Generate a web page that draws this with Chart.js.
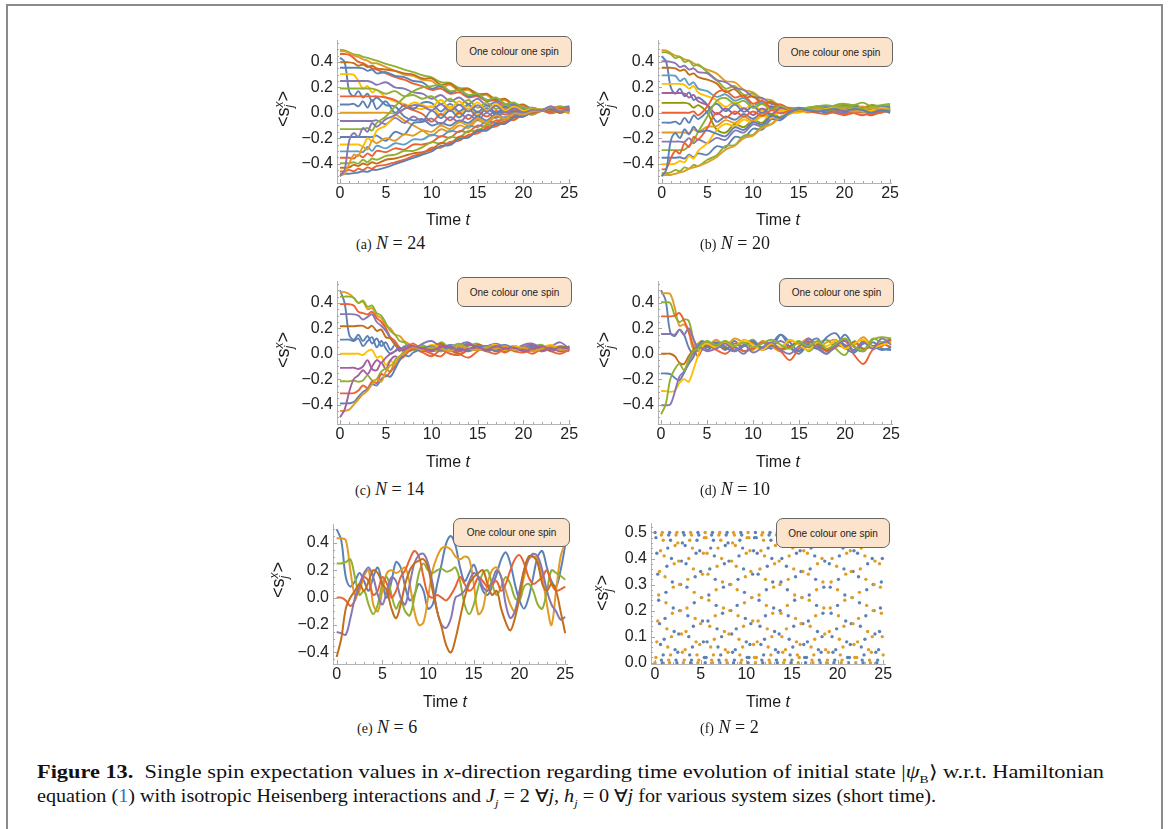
<!DOCTYPE html>
<html>
<head>
<meta charset="utf-8">
<title>Figure 13 – single spin expectation values</title>
<script src="https://cdn.jsdelivr.net/npm/chart.js@4.4.1/dist/chart.umd.min.js"></script>
<style>
  html, body { margin: 0; padding: 0; background: #fff; }
  #fig { position: relative; width: 1174px; height: 829px; overflow: hidden; font-family: "Liberation Sans", Arial, sans-serif; color: #1a1a1a; }
  .frame { position: absolute; left: 6px; top: 4px; width: 1153px; height: 900px; border: 2px solid #8a8a8a; border-bottom: none; }
  .pc { position: absolute; }
  .ytitle { position: absolute; transform: translate(-50%, -50%) rotate(-90deg); font-size: 18px; white-space: nowrap; }
  .xtitle { position: absolute; transform: translate(-50%, -50%); font-size: 16px; white-space: nowrap; }
  .key { position: absolute; box-sizing: border-box; border: 1.5px solid #666; border-radius: 7px; background: #fce3cc; font-size: 10px; display: flex; align-items: center; justify-content: center; white-space: nowrap; color: #222; }
  .sub { position: absolute; transform: translateY(-50%); font-family: "Liberation Serif", serif; font-size: 18px; white-space: nowrap; }
  .sub .tag { font-size: 14px; }
  .cap { position: absolute; left: 37px; font-family: "Liberation Serif", serif; font-size: 18px; white-space: nowrap; transform-origin: 0 50%; transform: translateY(-50%); color: #111; }
  .cap .ref { color: #1f78c8; }
  .stk { display: inline-block; vertical-align: middle; line-height: 0.85; font-size: 12px; font-style: italic; text-align: left; }
</style>
</head>
<body>
<div id="fig">
  <div class="frame"></div>
</div>
<script>
// ---------- axis tick labels ----------
const timeTicks = [0, 5, 10, 15, 20, 25];
const sxTicks = [-0.4, -0.2, 0, 0.2, 0.4];
const sxTicksN2 = [0, 0.1, 0.2, 0.3, 0.4, 0.5];

// ---------- sampling times ----------
const tGridAB = [0,0.5,1,1.5,2,2.5,3,3.5,4,5,6,7,8,9,10,11,12,13,14,15,16,17,18,19,20,21,22,23,24,25];
const tGridC = [0,0.5,1,1.5,2,2.5,3,3.5,4,4.5,5,5.5,6,6.5,7,7.5,8,9,10,11,12,13,14,15,16,17,18,19,20,21,22,23,24,25];
const tGridD = [0,0.5,1,1.5,2,2.5,3,3.5,4,4.5,5,6,7,8,9,10,11,12,13,14,15,16,17,18,19,20,21,22,23,24,25];
const tGridE = Array.from({length: 51}, (_, i) => i / 2);
const tGridF = Array.from({length: 251}, (_, i) => i / 10);

// ---------- <s_j^x>(t), N = 24 ----------
const sxN24 = [
  [0.496,0.49,0.475,0.46,0.455,0.44,0.432,0.42,0.41,0.385,0.365,0.34,0.32,0.295,0.279,0.24,0.235,0.195,0.19,0.15,0.146,0.105,0.102,0.06,0.058,0.02,0.025,0.04,0.02,0.035],
  [0.483,0.483,0.47,0.45,0.44,0.42,0.41,0.39,0.39,0.36,0.33,0.30,0.29,0.26,0.25,0.20,0.22,0.17,0.18,0.13,0.14,0.09,0.10,0.06,0.06,0.02,0.02,0.01,0.04,0.02],
  [0.462,0.462,0.455,0.43,0.40,0.39,0.37,0.35,0.34,0.31,0.28,0.26,0.23,0.21,0.18,0.19,0.15,0.16,0.12,0.13,0.09,0.10,0.06,0.07,0.04,0.03,0.02,0.035,0.01,0.03],
  [0.433,0.40,0.17,0.13,0.17,0.12,0.15,0.09,0.12,0.06,0.05,-0.03,-0.06,-0.05,-0.10,-0.08,-0.10,-0.06,-0.08,-0.03,-0.06,-0.01,-0.04,0.01,-0.01,0.02,0.02,0.00,0.03,0.05],
  [0.397,0.397,0.397,0.39,0.37,0.38,0.36,0.37,0.35,0.34,0.33,0.31,0.30,0.27,0.27,0.22,0.23,0.18,0.19,0.14,0.15,0.10,0.11,0.06,0.065,0.025,0.025,0.03,0.00,0.02],
  [0.354,0.354,0.354,0.354,0.354,0.35,0.33,0.34,0.31,0.32,0.29,0.28,0.25,0.24,0.19,0.21,0.16,0.18,0.13,0.14,0.10,0.11,0.07,0.07,0.04,0.04,0.02,0.05,0.02,0.01],
  [0.304,0.304,0.304,0.30,0.25,0.19,0.21,0.16,0.18,0.12,0.09,0.07,0.04,0.03,0.05,-0.02,0.05,-0.01,0.05,-0.01,0.04,0.00,0.03,0.01,0.025,0.015,0.02,0.04,0.01,0.03],
  [0.25,0.25,0.25,0.25,0.25,0.25,0.25,0.24,0.22,0.24,0.20,0.19,0.16,0.15,0.11,0.14,0.09,0.12,0.07,0.11,0.055,0.085,0.04,0.06,0.026,0.036,0.023,0.00,0.03,0.04],
  [0.191,0.191,0.191,0.191,0.191,0.191,0.191,0.19,0.18,0.15,0.17,0.13,0.14,0.11,0.13,0.07,0.11,0.06,0.10,0.04,0.08,0.03,0.06,0.025,0.04,0.02,0.02,0.04,0.00,0.02],
  [0.129,0.129,0.129,0.129,0.129,0.129,0.129,0.129,0.129,0.12,0.10,0.05,0.02,-0.01,-0.07,-0.01,-0.06,0.00,-0.05,0.01,-0.03,0.015,-0.015,0.016,0.00,0.018,0.02,0.03,0.05,0.01],
  [0.065,0.065,0.065,0.07,0.05,0.09,0.04,0.10,0.03,0.09,0.0,0.06,0.03,0.08,0.075,0.01,0.07,0.01,0.065,0.005,0.06,0.00,0.047,0.006,0.033,0.01,0.021,0.01,0.04,0.05],
  [0,0,0,0,0,0,0,0,0,0,-0.01,-0.06,-0.10,-0.14,-0.18,-0.13,-0.15,-0.10,-0.12,-0.06,-0.09,-0.03,-0.05,-0.006,-0.018,0.01,0.018,0.035,0.015,0.0],
  [-0.065,-0.065,-0.065,-0.065,-0.065,-0.065,-0.065,-0.065,-0.06,-0.09,-0.04,-0.08,-0.03,-0.07,-0.046,-0.09,-0.034,-0.075,-0.016,-0.056,-0.001,-0.041,0.01,-0.016,0.015,0.006,0.019,0.0,0.02,0.045],
  [-0.129,-0.129,-0.129,-0.129,-0.129,-0.129,-0.12,-0.14,-0.08,-0.03,0.05,0.12,0.17,0.20,0.21,0.22,0.17,0.18,0.14,0.15,0.10,0.12,0.07,0.08,0.04,0.037,0.024,0.02,0.05,0.03],
  [-0.191,-0.191,-0.191,-0.191,-0.191,-0.191,-0.191,-0.191,-0.18,-0.22,-0.15,-0.17,-0.08,-0.07,0.017,-0.042,0.02,-0.036,0.027,-0.028,0.033,-0.013,0.024,0.003,0.024,0.011,0.02,-0.005,0.02,0.04],
  [-0.25,-0.25,-0.25,-0.25,-0.25,-0.26,-0.20,-0.22,-0.14,-0.10,-0.02,0.03,0.08,0.06,0.045,0.10,0.034,0.09,0.025,0.082,0.016,0.072,0.017,0.048,0.017,0.027,0.022,0.0,0.03,0.015],
  [-0.304,-0.304,-0.304,-0.304,-0.304,-0.31,-0.27,-0.30,-0.26,-0.28,-0.24,-0.25,-0.21,-0.21,-0.173,-0.188,-0.142,-0.152,-0.103,-0.113,-0.068,-0.078,-0.033,-0.038,-0.002,-0.002,0.017,0.04,0.01,0.02],
  [-0.354,-0.354,-0.354,-0.36,-0.33,-0.35,-0.32,-0.34,-0.30,-0.31,-0.28,-0.29,-0.25,-0.25,-0.232,-0.184,-0.197,-0.144,-0.152,-0.10,-0.112,-0.06,-0.072,-0.025,-0.027,0.006,0.017,0.0,0.035,0.01],
  [-0.397,-0.397,-0.397,-0.39,-0.40,-0.37,-0.39,-0.36,-0.37,-0.34,-0.33,-0.30,-0.30,-0.27,-0.232,-0.241,-0.191,-0.196,-0.142,-0.147,-0.096,-0.102,-0.051,-0.057,-0.006,-0.016,0.016,0.03,0.02,-0.005],
  [-0.433,-0.433,-0.43,-0.41,-0.42,-0.40,-0.41,-0.39,-0.40,-0.37,-0.36,-0.34,-0.32,-0.31,-0.29,-0.238,-0.245,-0.188,-0.19,-0.133,-0.136,-0.083,-0.085,-0.033,-0.03,0.007,0.016,0.025,0.0,0.03],
  [-0.462,-0.462,-0.45,-0.46,-0.44,-0.45,-0.43,-0.44,-0.42,-0.41,-0.39,-0.37,-0.34,-0.32,-0.275,-0.275,-0.23,-0.22,-0.175,-0.162,-0.12,-0.108,-0.068,-0.054,-0.015,-0.005,0.015,0.01,0.03,0.04],
  [-0.483,-0.48,-0.48,-0.475,-0.47,-0.46,-0.465,-0.45,-0.45,-0.43,-0.405,-0.38,-0.355,-0.33,-0.305,-0.26,-0.255,-0.205,-0.195,-0.145,-0.14,-0.09,-0.085,-0.035,-0.03,0.01,0.015,0.03,0.01,0.025],
  [-0.496,-0.48,-0.40,-0.33,-0.34,-0.27,-0.29,-0.22,-0.24,-0.20,-0.22,-0.17,-0.18,-0.14,-0.15,-0.10,-0.128,-0.074,-0.099,-0.045,-0.074,-0.02,-0.044,-0.005,-0.014,0.012,0.018,0.045,0.02,0.0],
  [-0.5,-0.45,-0.22,-0.16,-0.19,-0.12,-0.15,-0.08,-0.11,-0.05,-0.02,0.03,0.06,0.05,0.02,0.067,0.014,0.063,0.011,0.06,0.007,0.055,0.002,0.036,0.003,0.025,0.021,0.05,0.01,0.03]
];

// ---------- <s_j^x>(t), N = 20 ----------
const sxN20 = [
  [0.494,0.49,0.47,0.45,0.44,0.42,0.41,0.39,0.37,0.34,0.31,0.25,0.24,0.18,0.16,0.11,0.10,0.05,0.04,0.03,0.025,0.03,0.04,0.05,0.04,0.03,0.02,0.03,0.05,0.06],
  [0.476,0.476,0.46,0.43,0.44,0.40,0.41,0.37,0.38,0.32,0.26,0.19,0.21,0.14,0.15,0.08,0.09,0.045,0.035,0.03,0.04,0.05,0.03,0.06,0.07,0.04,0.03,0.06,0.04,0.05],
  [0.446,0.40,0.20,0.15,0.19,0.13,0.16,0.10,0.12,0.06,-0.07,-0.03,-0.055,-0.01,-0.047,0.0,-0.015,0.014,0.013,0.025,0.02,0.01,0.03,0.02,0.0,0.02,0.04,0.02,0.01,0.03],
  [0.405,0.405,0.40,0.39,0.36,0.37,0.34,0.35,0.32,0.31,0.257,0.241,0.195,0.179,0.123,0.117,0.07,0.064,0.03,0.035,0.03,0.02,0.04,0.03,0.02,0.05,0.04,0.02,0.03,0.04],
  [0.354,0.354,0.354,0.35,0.33,0.34,0.30,0.31,0.28,0.26,0.231,0.163,0.185,0.117,0.129,0.07,0.082,0.042,0.033,0.03,0.02,0.01,0.03,0.0,-0.01,0.02,0.0,-0.02,0.01,0.03],
  [0.294,0.294,0.294,0.29,0.25,0.27,0.22,0.24,0.19,0.17,0.125,0.145,0.095,0.115,0.055,0.083,0.033,0.05,0.028,0.03,0.04,0.03,0.05,0.04,0.06,0.05,0.04,0.05,0.03,0.05],
  [0.227,0.227,0.227,0.227,0.227,0.22,0.19,0.21,0.16,0.13,0.10,0.047,0.085,0.033,0.061,0.016,0.054,0.018,0.023,0.02,0.0,0.02,0.01,0.0,0.02,0.01,-0.01,0.01,0.02,0.0],
  [0.155,0.155,0.155,0.155,0.155,0.15,0.12,0.14,0.09,0.06,-0.012,0.034,-0.01,0.036,-0.018,0.034,-0.01,0.036,0.018,0.03,0.035,0.02,0.03,0.04,0.03,0.02,0.04,0.05,0.03,0.02],
  [0.078,0.078,0.078,0.078,0.078,0.078,0.07,0.04,0.06,0.0,-0.13,-0.156,-0.09,-0.114,-0.058,-0.079,-0.013,-0.034,0.005,0.02,0.03,0.04,0.03,0.05,0.06,0.05,0.04,0.06,0.05,0.04],
  [0,0,0,0,0,0,0,0.01,-0.02,0.05,0.158,0.174,0.12,0.136,0.072,0.096,0.042,0.066,0.03,0.02,0.03,0.02,0.01,0.0,-0.02,0.0,0.01,-0.01,0.0,0.02],
  [-0.078,-0.078,-0.078,-0.07,-0.09,-0.04,-0.08,-0.02,-0.05,0.01,0.071,0.013,0.065,0.007,0.049,-0.003,0.049,-0.003,0.02,0.04,0.03,0.05,0.04,0.03,0.05,0.06,0.04,0.03,0.05,0.04],
  [-0.155,-0.155,-0.155,-0.155,-0.155,-0.155,-0.16,-0.13,-0.15,-0.11,-0.106,-0.058,-0.08,-0.032,-0.064,-0.012,-0.034,0.018,0.01,0.03,0.02,0.04,0.03,0.02,0.04,0.03,0.05,0.02,0.03,0.01],
  [-0.227,-0.227,-0.227,-0.227,-0.227,-0.23,-0.20,-0.24,-0.21,-0.24,-0.198,-0.214,-0.14,-0.156,-0.092,-0.106,-0.032,-0.046,0.0,0.02,0.01,0.03,0.02,0.01,0.0,0.02,0.01,0.0,0.02,0.03],
  [-0.294,-0.294,-0.294,-0.294,-0.294,-0.29,-0.26,-0.22,-0.15,-0.03,0.092,0.116,0.07,0.094,0.038,0.069,0.023,0.054,0.025,0.03,0.04,0.05,0.06,0.05,0.07,0.06,0.08,0.05,0.06,0.07],
  [-0.354,-0.354,-0.354,-0.354,-0.35,-0.36,-0.33,-0.35,-0.32,-0.33,-0.264,-0.272,-0.19,-0.198,-0.126,-0.133,-0.051,-0.058,-0.005,0.02,0.03,0.02,0.0,0.01,0.03,0.02,0.01,0.03,0.02,0.0],
  [-0.405,-0.405,-0.405,-0.40,-0.38,-0.39,-0.34,-0.36,-0.30,-0.24,-0.139,-0.087,-0.105,-0.053,-0.081,-0.026,-0.044,0.012,0.008,0.0,0.02,0.01,0.03,0.04,0.02,0.03,0.01,0.02,0.04,0.03],
  [-0.446,-0.44,-0.36,-0.30,-0.32,-0.24,-0.27,-0.19,-0.21,-0.12,0.0,-0.04,0.01,-0.03,0.01,-0.025,0.02,-0.005,0.015,0.02,0.01,0.0,-0.01,0.01,0.02,0.0,-0.02,0.0,0.01,0.02],
  [-0.476,-0.476,-0.47,-0.45,-0.46,-0.43,-0.44,-0.41,-0.42,-0.37,-0.337,-0.261,-0.255,-0.179,-0.173,-0.107,-0.09,-0.034,-0.008,0.02,0.03,0.04,0.02,0.03,0.05,0.04,0.03,0.04,0.02,0.03],
  [-0.494,-0.49,-0.49,-0.48,-0.47,-0.46,-0.44,-0.43,-0.42,-0.39,-0.35,-0.29,-0.26,-0.20,-0.18,-0.12,-0.09,-0.03,-0.01,0.02,0.01,0.03,0.02,0.04,0.03,0.01,0.02,0.04,0.03,0.02],
  [-0.5,-0.45,-0.22,-0.16,-0.20,-0.13,-0.17,-0.11,-0.15,-0.14,-0.165,-0.185,-0.115,-0.135,-0.075,-0.093,-0.023,-0.04,0.003,0.03,0.02,0.01,0.02,0.03,0.01,0.03,0.02,0.0,0.02,0.01]
];

// ---------- <s_j^x>(t), N = 14 ----------
const sxN14 = [
  [0.5,0.40,0.15,0.11,0.15,0.10,0.14,0.08,0.12,0.06,0.09,0.03,0.07,0.02,0.06,0.03,0.05,0.06,0.03,0.07,0.02,0.05,0.08,0.04,0.03,0.05,0.02,0.04,0.06,0.03,0.05,0.02,0.04,0.03],
  [0.487,0.485,0.47,0.44,0.40,0.41,0.35,0.36,0.30,0.28,0.22,0.20,0.15,0.14,0.10,0.08,0.06,0.04,0.06,0.02,0.05,0.03,0.07,0.05,0.02,0.04,0.06,0.03,0.05,0.04,0.02,0.06,0.05,0.03],
  [0.45,0.45,0.45,0.44,0.40,0.42,0.37,0.38,0.32,0.30,0.24,0.18,0.15,0.10,0.09,0.05,0.04,0.07,0.02,0.09,0.04,0.03,0.06,0.08,0.04,0.05,0.03,0.06,0.04,0.05,0.07,0.03,0.04,0.05],
  [0.391,0.391,0.39,0.38,0.33,0.32,0.31,0.33,0.28,0.25,0.20,0.13,0.10,0.05,0.04,0.06,0.08,0.03,0.00,-0.02,0.04,0.0,-0.03,0.02,0.06,0.04,0.01,0.05,0.03,0.0,0.04,0.06,0.02,0.03],
  [0.312,0.312,0.312,0.31,0.30,0.27,0.29,0.31,0.25,0.22,0.18,0.12,0.08,0.03,0.05,0.07,0.03,0.08,0.10,0.05,0.02,0.07,0.09,0.04,0.06,0.08,0.05,0.03,0.07,0.08,0.05,0.06,0.09,0.04],
  [0.217,0.217,0.217,0.217,0.22,0.22,0.20,0.22,0.18,0.19,0.13,0.12,0.07,0.04,0.02,0.05,0.06,0.02,0.05,0.08,0.03,0.0,0.03,0.07,0.05,0.02,0.04,0.06,0.03,0.05,0.02,0.04,0.06,0.05],
  [0.111,0.111,0.111,0.10,0.12,0.06,0.10,0.13,0.05,0.10,0.04,0.0,0.02,0.05,0.01,0.03,0.04,0.05,0.02,0.04,0.07,0.05,0.03,0.04,0.06,0.02,0.05,0.04,0.03,0.06,0.04,0.03,0.05,0.02],
  [0,0,0,0,0,-0.01,0.02,0.03,-0.03,-0.02,-0.09,-0.05,-0.10,-0.04,-0.02,0.03,0.05,0.04,0.07,0.05,0.03,0.06,0.02,0.04,0.05,0.07,0.03,0.06,0.04,0.02,0.05,0.07,0.04,0.05],
  [-0.111,-0.111,-0.111,-0.11,-0.12,-0.10,-0.05,-0.12,-0.13,-0.07,-0.12,-0.05,-0.02,-0.04,0.0,0.02,0.03,0.05,0.02,0.06,0.04,0.03,0.07,0.05,0.02,0.06,0.04,0.03,0.05,0.07,0.03,0.04,0.02,0.05],
  [-0.217,-0.217,-0.217,-0.21,-0.22,-0.21,-0.17,-0.21,-0.20,-0.14,-0.12,-0.14,-0.05,-0.02,0.02,0.05,0.03,0.06,0.04,0.02,0.05,0.08,0.04,0.03,0.05,0.06,0.04,0.03,0.05,0.04,0.06,0.03,0.05,0.04],
  [-0.312,-0.312,-0.312,-0.31,-0.29,-0.25,-0.27,-0.22,-0.23,-0.16,-0.18,-0.14,-0.10,-0.05,-0.02,0.02,0.04,0.01,-0.02,0.03,0.0,-0.01,0.03,0.05,0.02,0.0,0.04,0.02,0.01,0.03,0.05,0.02,0.0,0.03],
  [-0.391,-0.391,-0.39,-0.38,-0.34,-0.30,-0.28,-0.24,-0.25,-0.20,-0.17,-0.18,-0.12,-0.05,-0.01,-0.02,0.01,0.04,0.06,0.03,0.05,0.04,0.02,0.06,0.03,0.05,0.07,0.04,0.03,0.06,0.04,0.05,0.03,0.06],
  [-0.45,-0.45,-0.44,-0.40,-0.36,-0.32,-0.29,-0.24,-0.20,-0.22,-0.14,-0.09,-0.08,-0.02,0.0,0.04,0.05,0.03,0.05,0.04,0.02,0.06,0.04,0.03,0.05,0.04,0.06,0.03,0.05,0.02,0.04,0.06,0.03,0.04],
  [-0.5,-0.44,-0.30,-0.20,-0.17,-0.13,-0.16,-0.10,-0.05,-0.07,-0.03,0.0,0.02,0.04,0.03,0.05,0.06,0.04,0.03,0.05,0.06,0.02,0.04,0.05,0.03,0.06,0.04,0.05,0.02,0.04,0.06,0.03,0.05,0.04]
];

// ---------- <s_j^x>(t), N = 10 ----------
const sxN10 = [
  [0.5,0.42,0.17,0.14,0.19,0.15,0.05,0.0,0.06,0.09,0.03,0.08,0.03,0.10,0.02,0.05,0.09,0.04,0.15,0.05,0.0,0.08,0.12,0.02,0.06,0.15,0.05,0.02,0.09,0.04,0.03],
  [0.476,0.476,0.47,0.36,0.22,0.23,0.17,0.04,0.08,0.10,0.06,0.11,0.06,0.12,0.08,0.03,0.10,0.06,0.02,0.10,0.08,0.12,0.05,0.09,0.11,0.04,0.07,0.13,0.06,0.08,0.10],
  [0.405,0.405,0.40,0.30,0.25,0.27,0.26,0.12,0.02,0.06,0.09,0.05,0.10,0.03,0.07,0.11,0.04,0.08,0.03,0.05,0.10,0.02,0.07,0.11,0.04,-0.01,0.10,0.03,0.12,0.09,0.12],
  [0.294,0.294,0.294,0.30,0.32,0.26,0.18,0.06,-0.02,0.04,0.07,0.03,0.0,0.05,0.02,0.04,0.09,0.07,0.02,-0.05,0.04,0.09,0.07,0.02,0.05,0.10,-0.01,-0.08,0.03,0.06,0.11],
  [0.155,0.155,0.155,0.15,0.19,0.15,0.20,0.12,0.05,0.03,0.08,0.06,0.09,0.05,0.0,0.08,0.03,0.06,0.10,0.05,0.02,0.12,0.06,0.0,0.09,0.07,0.03,0.10,0.05,0.08,0.12],
  [0,0,0,-0.02,-0.07,-0.08,-0.02,0.03,0.05,0.08,0.05,0.07,0.04,0.08,0.06,0.09,0.05,0.07,0.04,0.06,0.09,0.05,0.08,0.03,0.07,0.05,0.09,0.04,0.06,0.08,0.05],
  [-0.155,-0.155,-0.16,-0.19,-0.21,-0.15,-0.08,-0.03,0.05,0.10,0.06,0.09,0.05,0.02,0.06,0.10,0.04,0.08,0.15,0.09,0.02,0.07,0.04,0.13,0.16,0.05,0.01,0.08,0.06,0.03,0.05],
  [-0.294,-0.294,-0.30,-0.29,-0.23,-0.20,-0.22,-0.13,-0.02,0.06,0.08,0.05,0.09,0.06,0.11,0.07,0.03,0.08,0.05,0.11,0.07,0.03,0.09,0.06,0.10,0.04,0.08,0.11,0.05,0.07,0.09],
  [-0.405,-0.405,-0.40,-0.30,-0.18,-0.14,-0.06,0.0,0.06,0.04,0.02,0.04,0.08,0.02,0.07,0.01,0.05,0.09,0.03,0.0,0.06,0.10,0.04,0.0,0.06,0.11,0.02,0.09,0.04,0.12,0.07],
  [-0.476,-0.40,-0.20,-0.12,-0.08,-0.13,-0.05,0.02,0.04,0.08,0.10,0.07,0.10,0.06,0.09,0.05,0.08,0.11,0.07,0.04,0.09,0.06,0.10,0.04,0.08,0.12,0.06,0.02,0.11,0.13,0.12]
];

// ---------- <s_j^x>(t), N = 6 ----------
const sxN6 = [
  [0.5,0.42,0.15,0.08,0.12,0.18,0.12,0.05,0.15,0.22,0.10,0.0,0.12,0.26,0.22,0.08,-0.02,0.02,0.10,0.05,-0.08,-0.05,0.10,0.25,0.40,0.45,0.38,0.22,0.12,0.18,0.24,0.15,0.05,0.02,0.08,0.17,0.28,0.33,0.25,0.10,-0.02,-0.08,0.0,0.15,0.30,0.34,0.22,0.12,0.08,0.20,0.38],
  [0.433,0.433,0.42,0.20,0.02,0.05,0.16,0.20,-0.05,-0.10,0.05,0.18,0.20,0.18,0.20,0.22,0.10,-0.10,-0.20,-0.18,0.0,0.20,0.30,0.36,0.37,0.35,0.30,0.28,0.30,0.28,0.10,-0.12,-0.08,0.10,0.20,0.22,0.15,0.05,-0.05,-0.10,0.0,0.15,0.28,0.30,0.28,0.15,-0.05,-0.20,0.05,0.30,0.40],
  [0.25,0.25,0.26,0.28,0.15,0.02,0.05,-0.05,-0.12,-0.05,0.10,0.15,0.02,-0.08,-0.02,-0.10,-0.13,0.0,0.18,0.25,0.20,0.18,0.20,0.21,0.19,0.20,0.22,0.12,-0.05,-0.12,-0.05,0.08,0.18,0.20,0.10,0.02,0.08,0.15,0.10,0.0,-0.02,0.08,0.10,0.05,-0.05,-0.08,0.05,0.20,0.18,0.16,0.13],
  [0,0,-0.02,-0.06,-0.02,0.08,0.15,0.12,0.02,0.05,0.15,0.10,0.0,0.05,0.15,0.20,0.28,0.34,0.30,0.15,0.02,0.0,0.02,0.0,-0.02,0.02,0.08,0.15,0.10,0.05,0.08,0.15,0.12,0.08,0.10,0.12,0.05,0.10,0.20,0.28,0.31,0.25,0.15,0.10,0.12,0.15,0.20,0.10,0.05,0.06,0.08],
  [-0.25,-0.26,-0.27,-0.15,0.0,0.10,0.18,0.22,0.15,0.02,-0.05,0.05,0.15,0.12,0.0,-0.05,0.10,0.25,0.31,0.32,0.25,0.10,-0.10,-0.20,-0.22,-0.15,0.0,0.02,0.05,0.12,0.18,0.15,0.08,0.05,0.12,0.20,0.15,-0.05,-0.15,-0.10,0.05,0.20,0.28,0.32,0.30,0.20,0.05,-0.05,-0.10,-0.16,-0.14],
  [-0.433,-0.30,-0.08,0.0,0.05,0.10,0.05,0.12,0.20,0.18,0.10,0.05,-0.08,-0.15,-0.05,0.10,0.20,0.25,0.27,0.28,0.22,0.05,-0.10,-0.22,-0.35,-0.40,-0.30,-0.15,0.0,0.10,0.15,0.18,0.20,0.10,0.02,0.05,-0.08,-0.18,-0.24,-0.15,0.0,0.20,0.30,0.30,0.25,0.10,0.05,0.10,0.05,-0.10,-0.26]
];

// ---------- <s_j^x>(t), N = 2 (sampled every 0.1) ----------
const sxN2spin1 = [
  0.50,0.48,0.42,0.34,0.24,0.15,0.07,0.01,0.00,0.03, 0.09,0.17,0.27,0.37,0.44,0.49,0.50,0.47,0.40,0.31,
  0.21,0.12,0.05,0.01,0.00,0.04,0.11,0.20,0.30,0.39, 0.46,0.50,0.49,0.45,0.38,0.29,0.18,0.10,0.03,0.00,
  0.01,0.06,0.14,0.23,0.33,0.42,0.47,0.50,0.49,0.43, 0.35,0.25,0.16,0.08,0.02,0.00,0.02,0.08,0.16,0.26,
  0.36,0.44,0.49,0.50,0.47,0.41,0.32,0.22,0.13,0.06, 0.01,0.00,0.03,0.10,0.19,0.29,0.38,0.45,0.49,0.50,
  0.46,0.39,0.30,0.20,0.11,0.04,0.00,0.01,0.05,0.13, 0.22,0.32,0.41,0.47,0.50,0.49,0.44,0.36,0.27,0.17,
  0.08,0.02,0.00,0.02,0.07,0.15,0.25,0.34,0.43,0.48, 0.50,0.48,0.42,0.34,0.24,0.14,0.07,0.01,0.00,0.03,
  0.09,0.18,0.28,0.37,0.44,0.49,0.50,0.47,0.40,0.31, 0.21,0.12,0.05,0.01,0.00,0.04,0.11,0.20,0.31,0.40,
  0.46,0.50,0.49,0.45,0.37,0.28,0.18,0.09,0.03,0.00, 0.01,0.06,0.14,0.24,0.33,0.42,0.47,0.50,0.48,0.43,
  0.35,0.25,0.15,0.07,0.02,0.00,0.02,0.08,0.16,0.26, 0.36,0.44,0.49,0.50,0.47,0.41,0.32,0.22,0.12,0.05,
  0.01,0.00,0.04,0.10,0.19,0.29,0.39,0.45,0.50,0.49, 0.46,0.38,0.29,0.19,0.10,0.04,0.00,0.01,0.05,0.13,
  0.22,0.32,0.41,0.47,0.50,0.49,0.44,0.36,0.26,0.16, 0.08,0.02,0.00,0.02,0.07,0.15,0.25,0.35,0.43,0.48,
  0.50,0.48,0.42,0.33,0.23,0.14,0.06,0.01,0.00,0.03, 0.09,0.18,0.28,0.38,0.45,0.49,0.50,0.46,0.40,0.30,
  0.20,0.11,0.04,0.00,0.01,0.05,0.12,0.21,0.31,0.40, 0.47
];
const sxN2spin2 = [
  0.00,0.02,0.08,0.16,0.26,0.35,0.43,0.49,0.50,0.47, 0.41,0.33,0.23,0.13,0.06,0.01,0.00,0.03,0.10,0.19,
  0.29,0.38,0.45,0.49,0.50,0.46,0.39,0.30,0.20,0.11, 0.04,0.00,0.01,0.05,0.12,0.21,0.32,0.40,0.47,0.50,
  0.49,0.44,0.36,0.27,0.17,0.08,0.03,0.00,0.01,0.07, 0.15,0.25,0.34,0.42,0.48,0.50,0.48,0.42,0.34,0.24,
  0.14,0.06,0.01,0.00,0.03,0.09,0.18,0.28,0.37,0.44, 0.49,0.50,0.47,0.40,0.31,0.21,0.12,0.05,0.01,0.00,
  0.04,0.11,0.20,0.30,0.39,0.46,0.50,0.49,0.45,0.37, 0.28,0.18,0.09,0.03,0.00,0.01,0.06,0.14,0.23,0.33,
  0.42,0.48,0.50,0.48,0.43,0.35,0.25,0.16,0.07,0.02, 0.00,0.02,0.08,0.16,0.26,0.36,0.43,0.49,0.50,0.47,
  0.41,0.32,0.22,0.13,0.06,0.01,0.00,0.03,0.10,0.19, 0.29,0.38,0.45,0.49,0.50,0.46,0.39,0.30,0.19,0.10,
  0.04,0.00,0.01,0.05,0.13,0.22,0.32,0.41,0.47,0.50, 0.49,0.44,0.36,0.26,0.17,0.08,0.03,0.00,0.02,0.07,
  0.15,0.25,0.35,0.43,0.48,0.50,0.48,0.42,0.34,0.24, 0.14,0.06,0.01,0.00,0.03,0.09,0.18,0.28,0.38,0.45,
  0.49,0.50,0.46,0.40,0.31,0.21,0.11,0.05,0.00,0.01, 0.04,0.12,0.21,0.31,0.40,0.46,0.50,0.49,0.45,0.37,
  0.28,0.18,0.09,0.03,0.00,0.01,0.06,0.14,0.24,0.34, 0.42,0.48,0.50,0.48,0.43,0.35,0.25,0.15,0.07,0.02,
  0.00,0.02,0.08,0.17,0.27,0.36,0.44,0.49,0.50,0.47, 0.41,0.32,0.22,0.12,0.05,0.01,0.00,0.04,0.10,0.20,
  0.30,0.39,0.46,0.50,0.49,0.45,0.38,0.29,0.19,0.10, 0.03
];

// ---------- line colours (one colour per spin) ----------
const C = {
  blue: '#5E81B5', orange: '#E09C24', green: '#8FB032', red: '#EB6235', purple: '#8778B3',
  brown: '#C56E1A', lblue: '#5D9EC7', yellow: '#FFBF00', magenta: '#A5609D', olive: '#929600'
};
const colN24 = ['green','orange','red','blue','brown','blue','yellow','purple','green','red','blue','orange',
                'purple','green','blue','yellow','lblue','red','green','brown','red','blue','orange','purple'];
const colN20 = ['orange','green','blue','purple','brown','lblue','yellow','magenta','olive','red',
                'blue','orange','purple','green','blue','yellow','red','green','orange','blue'];
const colN14 = ['blue','orange','green','red','purple','brown','blue','yellow','magenta','green','red','blue','orange','magenta'];
const colN10 = ['blue','orange','green','red','purple','brown','blue','yellow','purple','green'];
const colN6 = ['blue','orange','green','red','purple','brown'];
const colN2 = ['blue','orange'];

// ---------- drawing ----------
const PAD_L = 56, PAD_T = 8, PAD_R = 10, PAD_B = 30;
const fig = document.getElementById('fig');

const innerTicks = {
  id: 'innerTicks',
  afterDraw(chart, args, o) {
    const {ctx, chartArea: a, scales: {x, y}} = chart;
    ctx.save();
    ctx.strokeStyle = '#a6a6a6';
    ctx.lineWidth = 1;
    ctx.beginPath();
    for (let t = 0; t <= 25; t++) {
      const px = Math.round(x.getPixelForValue(t)) + 0.5;
      const len = t % 5 === 0 ? 4 : 2;
      ctx.moveTo(px, a.bottom);
      ctx.lineTo(px, a.bottom - len);
    }
    const n0 = Math.ceil(y.min / o.yMinor - 1e-6), n1 = Math.floor(y.max / o.yMinor + 1e-6);
    for (let n = n0; n <= n1; n++) {
      const v = n * o.yMinor;
      const py = Math.round(y.getPixelForValue(v)) + 0.5;
      const len = n % o.yMajorEvery === 0 ? 4 : 2;
      ctx.moveTo(a.left, py);
      ctx.lineTo(a.left + len, py);
    }
    ctx.stroke();
    ctx.restore();
  }
};

function fmtY(v) {
  if (Math.abs(v) < 1e-9) return '0.0';
  return (v < 0 ? '\u2212' : '') + Math.abs(v).toFixed(1);
}

function panel(p) {
  const wrap = document.createElement('div');
  wrap.className = 'pc';
  const w = p.R - p.L + PAD_L + PAD_R, h = p.B - p.T + PAD_T + PAD_B;
  wrap.style.left = (p.L - PAD_L) + 'px';
  wrap.style.top = (p.T - PAD_T) + 'px';
  wrap.style.width = w + 'px';
  wrap.style.height = h + 'px';
  const cv = document.createElement('canvas');
  cv.width = w; cv.height = h;
  cv.style.width = w + 'px'; cv.style.height = h + 'px';
  wrap.appendChild(cv);
  fig.appendChild(wrap);

  const datasets = p.series.map((vals, i) => ({
    data: vals.map((v, j) => ({x: p.times[j], y: v})).filter(d => d.x !== undefined),
    borderColor: C[p.colors[i]],
    backgroundColor: C[p.colors[i]],
    borderWidth: p.dots ? 0 : p.lw,
    pointRadius: p.dots ? 1.7 : 0,
    pointBorderWidth: 0,
    showLine: !p.dots,
    tension: 0.35,
    order: -i
  }));

  const tickFont = {family: '"Liberation Sans", Arial, sans-serif', size: 16};
  new Chart(cv, {
    type: 'line',
    data: {datasets},
    plugins: [innerTicks],
    options: {
      responsive: false,
      animation: false,
      devicePixelRatio: 1,
      events: [],
      layout: {padding: {left: 0, top: PAD_T, right: PAD_R, bottom: 0}},
      plugins: {
        legend: {display: false},
        tooltip: {enabled: false},
        innerTicks: {yMinor: p.yMinor, yMajorEvery: p.yMajorEvery}
      },
      scales: {
        x: {
          type: 'linear', min: p.xMin, max: p.xMax,
          afterFit(s) { s.height = PAD_B; },
          afterBuildTicks(s) { s.ticks = timeTicks.map(v => ({value: v})); },
          ticks: {font: tickFont, color: '#222', padding: 1, maxRotation: 0, autoSkip: false, callback: v => String(v)},
          grid: {drawOnChartArea: false, drawTicks: false},
          border: {color: '#b4b4b4', width: 1}
        },
        y: {
          type: 'linear', min: p.yMin, max: p.yMax,
          afterFit(s) { s.width = PAD_L; },
          afterBuildTicks(s) { s.ticks = p.yTicks.map(v => ({value: v})); },
          ticks: {font: tickFont, color: '#222', padding: 4, autoSkip: false, callback: v => fmtY(v)},
          grid: {drawOnChartArea: false, drawTicks: false},
          border: {color: '#b4b4b4', width: 1}
        }
      }
    }
  });
}

const yA = {yMin: -0.553, yMax: 0.568, yTicks: sxTicks, yMinor: 0.05, yMajorEvery: 4, lw: 1.9};
panel(Object.assign({L: 337, T: 35, R: 570, B: 183, xMin: -0.33, xMax: 25.08, times: tGridAB, series: sxN24, colors: colN24}, yA));
panel(Object.assign({L: 658, T: 35, R: 891, B: 183, xMin: -0.4, xMax: 25.1, times: tGridAB, series: sxN20, colors: colN20}, yA));
panel(Object.assign({L: 337, T: 276, R: 570, B: 424, xMin: -0.33, xMax: 25.08, times: tGridC, series: sxN14, colors: colN14}, yA));
panel(Object.assign({L: 658, T: 276, R: 892, B: 424, xMin: -0.33, xMax: 25.1, times: tGridD, series: sxN10, colors: colN10}, yA));
panel({L: 333, T: 519, R: 567, B: 664, xMin: -0.4, xMax: 25.2, yMin: -0.484, yMax: 0.533, yTicks: sxTicks, yMinor: 0.05, yMajorEvery: 4,
       lw: 2, times: tGridE, series: sxN6, colors: colN6});
panel({L: 651, T: 518, R: 885, B: 664, xMin: -0.44, xMax: 25.2, yMin: -0.005, yMax: 0.534, yTicks: sxTicksN2, yMinor: 0.02, yMajorEvery: 5,
       lw: 0, times: tGridF, series: [sxN2spin1, sxN2spin2], colors: colN2, dots: true});

// ---------- text around the panels ----------
function addHTML(cls, html, css) {
  const d = document.createElement('div');
  d.className = cls;
  d.innerHTML = html;
  Object.assign(d.style, css);
  fig.appendChild(d);
  return d;
}
const yTitle = '&lt;s<span class="stk">x<br>j</span>&gt;';
const xTitle = 'Time <i>t</i>';
[[284,109],[605,109],[284,350],[605,350],[279,580],[603,593]].forEach(([x, y]) =>
  addHTML('ytitle', yTitle, {left: x + 'px', top: y + 'px'}));
[[448,220],[778,220],[448,462],[778,462],[445,702],[768,702]].forEach(([x, y]) =>
  addHTML('xtitle', xTitle, {left: x + 'px', top: y + 'px'}));
[[456,36,116,31],[778,37,115,30],[457,277,115,30],[779,278,115,29],[453,518,117,29],[776,518,114,30]].forEach(([x, y, w, h]) =>
  addHTML('key', 'One colour one spin', {left: x + 'px', top: y + 'px', width: w + 'px', height: h + 'px'}));
[['a','24',356,243],['b','20',700,243],['c','14',355,489],['d','10',700,489],['e','6',357,727],['f','2',700,727]].forEach(([k, n, x, y]) =>
  addHTML('sub', '<span class="tag">(' + k + ')</span>&nbsp;<i>N</i>&nbsp;=&nbsp;' + n, {left: x + 'px', top: y + 'px'}));

const cap1 = addHTML('cap', '<b>Figure 13.</b>&nbsp; Single spin expectation values in <i>x</i>-direction regarding time evolution of initial state |<i>ψ</i><sub style="font-size:11px">B</sub>⟩ w.r.t. Hamiltonian', {top: '773px'});
const cap2 = addHTML('cap', 'equation (<span class="ref">1</span>) with isotropic Heisenberg interactions and <i>J<sub style="font-size:11px">j</sub></i> = 2 ∀<i>j</i>, <i>h<sub style="font-size:11px">j</sub></i> = 0 ∀<i>j</i> for various system sizes (short time).', {top: '797px'});
[[cap1, 1067], [cap2, 899]].forEach(([el, target]) => {
  const w = el.getBoundingClientRect().width;
  if (w > 0) el.style.transform = 'translateY(-50%) scaleX(' + (target / w).toFixed(4) + ')';
});
</script>
</body>
</html>
